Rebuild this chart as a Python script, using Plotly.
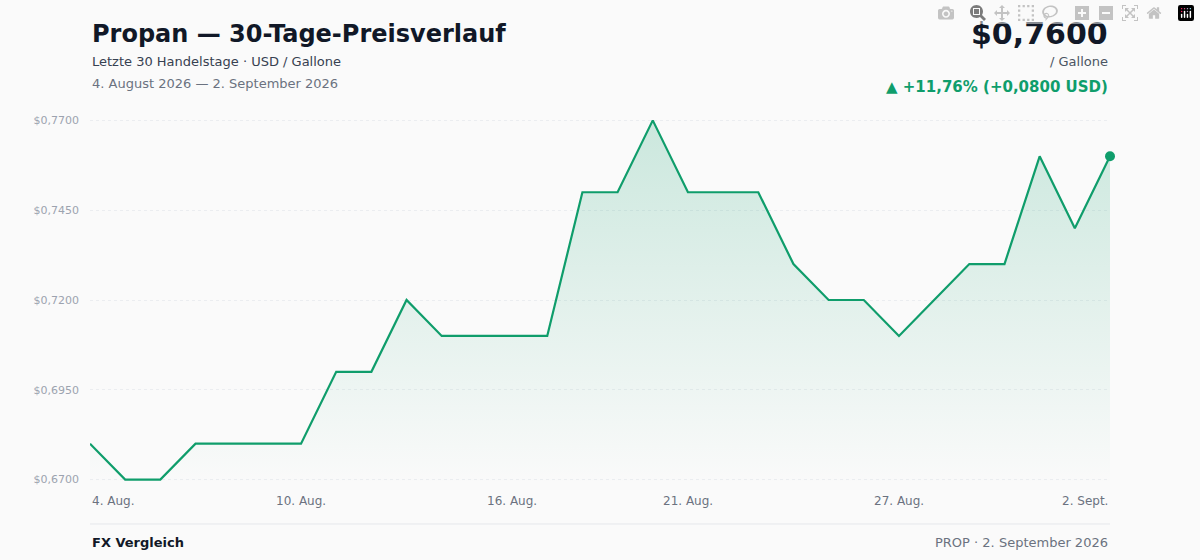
import plotly.graph_objects as go
import pandas as pd

dates = pd.date_range("2026-08-04", "2026-09-02", freq="D")
prices = [0.68,0.67,0.67,0.68,0.68,0.68,0.68,0.70,0.70,0.72,0.71,0.71,0.71,0.71,0.75,0.75,0.77,0.75,0.75,0.75,0.73,0.72,0.72,0.71,0.72,0.73,0.73,0.76,0.74,0.76]
y_ticks = [0.67,0.695,0.72,0.745,0.77]
x_tick_idx = [0,6,12,17,23,29]
x_tick_labels = ["4. Aug.","10. Aug.","16. Aug.","21. Aug.","27. Aug.","2. Sept."]

GREEN = "#0f9d6b"
FONT = "DejaVu Sans"
ymin, ymax = 0.6685, 0.7715
L, R, T, B = 90, 90, 115, 75
plot_h = 560 - T - B

fig = go.Figure()
fig.add_trace(go.Scatter(x=dates, y=[ymin]*len(dates), mode="lines", line=dict(width=0), hoverinfo="skip", showlegend=False))
fig.add_trace(go.Scatter(x=dates, y=prices, mode="lines", line=dict(color=GREEN, width=2.2),
    fill="tonexty", fillgradient=dict(type="vertical", colorscale=[[0,"rgba(15,157,107,0.0)"],[1,"rgba(15,157,107,0.2)"]]),
    showlegend=False))
fig.add_trace(go.Scatter(x=[dates[-1]], y=[prices[-1]], mode="markers", marker=dict(color=GREEN, size=10),
    cliponaxis=False, showlegend=False))

final = []
for i, lab in zip(x_tick_idx, x_tick_labels):
    xa = "left" if i == 0 else ("right" if i == len(dates)-1 else "center")
    final.append(dict(x=dates[i], y=0, xref="x", yref="paper", yshift=-16, text=lab, showarrow=False,
                      xanchor=xa, yanchor="middle", font=dict(size=12, color="#6b7280")))
texts = [
    (90, 34, "<b>Propan — 30-Tage-Preisverlauf</b>", "left", 24, "#111827"),
    (90, 62, "Letzte 30 Handelstage · USD / Gallone", "left", 13, "#374151"),
    (90, 84, "4. August 2026 — 2. September 2026", "left", 13, "#6b7280"),
    (1110, 33, "<b>$0,7600</b>", "right", 30, "#111827"),
    (1110, 62, "/ Gallone", "right", 13, "#4b5563"),
    (1110, 87, "<b>▲ +11,76% (+0,0800 USD)</b>", "right", 15, GREEN),
    (90, 542, "<b>FX Vergleich</b>", "left", 13, "#111827"),
    (1110, 542, "PROP · 2. September 2026", "right", 13, "#6b7280"),
]
for px, py, t, xa, fs, col in texts:
    final.append(dict(x=(px-L)/1020, y=(560-B-py)/plot_h, xref="paper", yref="paper", text=t,
                      showarrow=False, xanchor=xa, yanchor="middle", font=dict(size=fs, color=col)))

fig.update_layout(
    width=1200, height=560, autosize=False,
    margin=dict(l=L, r=R, t=T, b=B),
    paper_bgcolor="#fafafa", plot_bgcolor="#fafafa",
    font=dict(family=FONT),
    xaxis=dict(range=[dates[0], dates[-1]], showgrid=False, showticklabels=False, zeroline=False, fixedrange=True),
    yaxis=dict(range=[ymin, ymax], tickvals=y_ticks, ticktext=[f"${v:.4f}".replace(".", ",") for v in y_ticks],
               tickfont=dict(size=11, color="#9ca3af"), showgrid=True, gridcolor="#ebedf0", griddash="dot",
               zeroline=False, ticklabelstandoff=10),
    annotations=final,
)
fig.add_shape(type="line", xref="paper", yref="paper", x0=0, x1=1, y0=(485-524)/plot_h, y1=(485-524)/plot_h,
              line=dict(color="#e5e7eb", width=1))
fig.write_html("out.html", post_script="document.body.style.margin='0';document.body.style.background='#fafafa';")
